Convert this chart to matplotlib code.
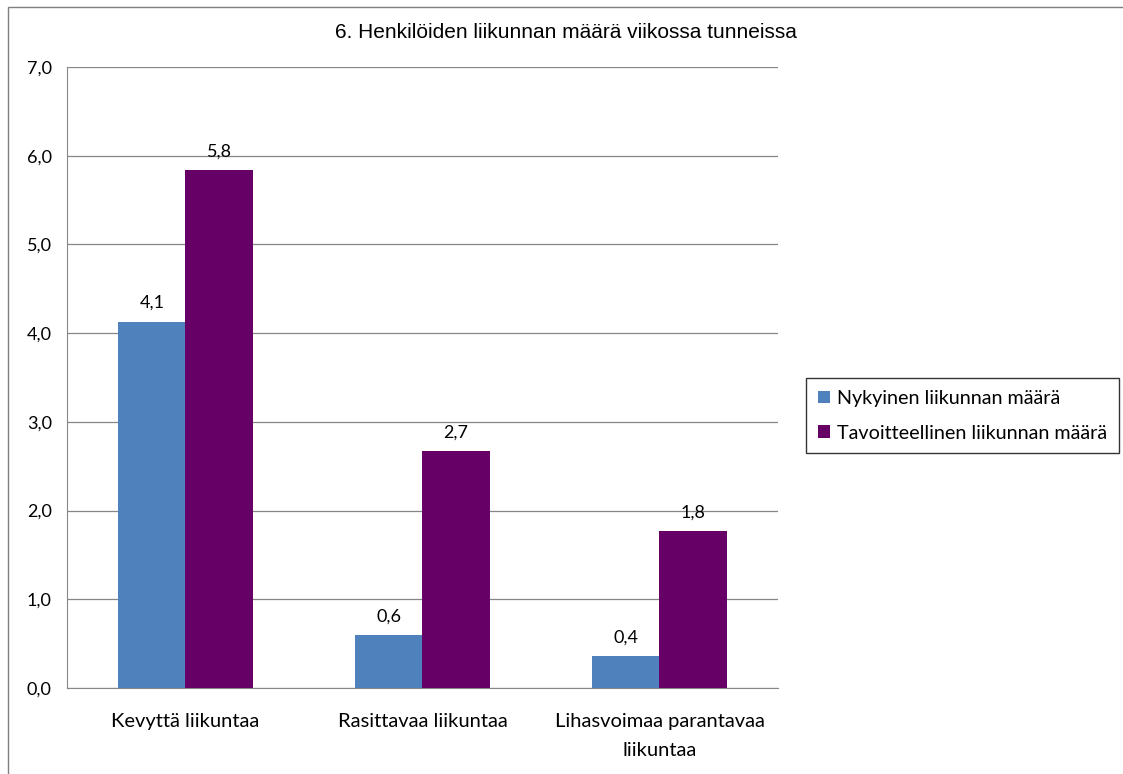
import matplotlib
matplotlib.use("Agg")
import matplotlib.pyplot as plt
from matplotlib.patches import Rectangle

categories = ["Kevyttä liikuntaa", "Rasittavaa liikuntaa", "Lihasvoimaa parantavaa\nliikuntaa"]
series_names = ["Nykyinen liikunnan määrä", "Tavoitteellinen liikunnan määrä"]
current = [4.13, 0.60, 0.36]
target = [5.84, 2.67, 1.77]
y_ticks = [0, 1, 2, 3, 4, 5, 6, 7]
title = "6. Henkilöiden liikunnan määrä viikossa tunneissa"

colors = ["#4F81BD", "#660066"]
label_font = "Lato"
W, H = 1123, 774

fig = plt.figure(figsize=(W / 100, H / 100), dpi=100)
fig.patch.set_facecolor("white")

# outer chart-area frame
fig.add_artist(Rectangle((8 / W, -0.01), 1.0, 1 - 7 / H + 0.01, transform=fig.transFigure,
                         fill=False, edgecolor="#7f7f7f", linewidth=1.0))

ax = fig.add_axes([67 / W, 1 - 688 / H, (778 - 67) / W, (688 - 67) / H])
x = list(range(len(categories)))
bw = 0.283
for vals, col, off, name in zip([current, target], colors, [-bw / 2, bw / 2], series_names):
    bars = ax.bar([i + off for i in x], vals, width=bw, color=col, label=name, zorder=3)
    for b, v in zip(bars, vals):
        ax.text(b.get_x() + b.get_width() / 2, v + 0.12, f"{v:.1f}".replace(".", ","),
                ha="center", va="bottom", fontsize=13, family=label_font, color="black")

ax.set_xlim(-0.5, 2.5)
ax.set_ylim(0, 7)
ax.set_yticks(y_ticks)
ax.set_yticklabels([f"{t:.1f}".replace(".", ",") for t in y_ticks], fontsize=13, family=label_font)
ax.set_xticks(x)
ax.set_xticklabels(categories, fontsize=14.5, family=label_font, linespacing=1.85)
ax.tick_params(axis="x", length=0, pad=18)
ax.tick_params(axis="y", length=0, pad=11)
ax.grid(axis="y", color="#868686", linewidth=0.9, zorder=0)
for s in ["top", "right"]:
    ax.spines[s].set_visible(False)
ax.spines["left"].set_color("#868686")
ax.spines["bottom"].set_color("#868686")
ax.set_axisbelow(True)

fig.text(566 / W, 1 - 33 / H, title, ha="center", va="center", fontsize=15,
         family="Liberation Sans")

leg = fig.legend(loc="upper left", bbox_to_anchor=(806 / W, 1 - 378 / H),
                 prop={"family": label_font, "size": 14.2}, frameon=True, fancybox=False,
                 handlelength=0.6, handleheight=0.6, handletextpad=0.35,
                 borderpad=0.6, labelspacing=0.9, borderaxespad=0)
leg.get_frame().set_edgecolor("black")
leg.get_frame().set_linewidth(1.0)

fig.savefig("out.png", dpi=100)
